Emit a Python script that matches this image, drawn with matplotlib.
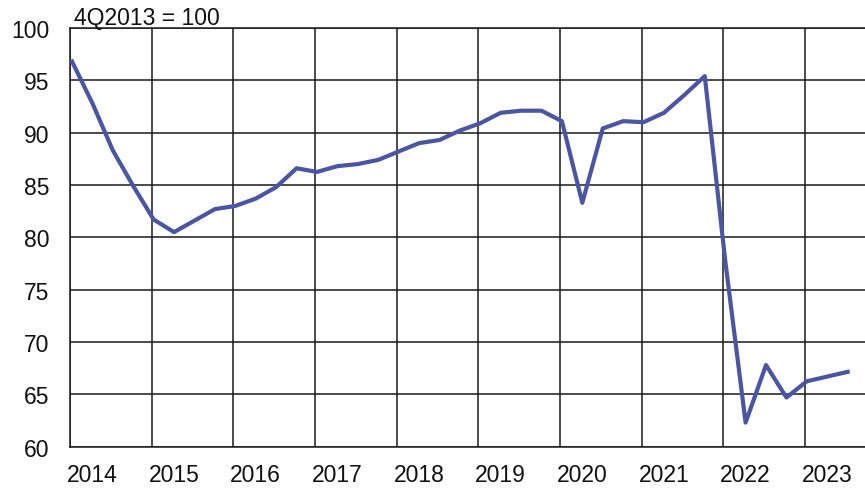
import numpy as np
import matplotlib.pyplot as plt

plt.rcParams['font.family'] = ['Liberation Sans', 'DejaVu Sans']

# quarterly index, 1Q2014 .. 3Q2023 (4Q2013 = 100)
years = [2014, 2015, 2016, 2017, 2018, 2019, 2020, 2021, 2022, 2023]
values = [96.8, 92.8, 88.3, 84.9, 81.7, 80.5, 81.6, 82.7, 83.0, 83.7,
          84.8, 86.6, 86.25, 86.8, 87.0, 87.4, 88.2, 89.0, 89.3, 90.2,
          90.9, 91.9, 92.1, 92.1, 91.1, 83.3, 90.4, 91.1, 91.0, 91.9,
          93.6, 95.4, 77.8, 62.3, 67.8, 64.7, 66.25, 66.7, 67.15]
y_ticks = [60, 65, 70, 75, 80, 85, 90, 95, 100]

fig = plt.figure(figsize=(8.65, 4.89), dpi=100)
ax = fig.add_axes([70/865, 1-447.7/489, 1-70/865, (447.7-29)/489])

x = np.arange(len(values))
ax.plot(x, values, color='#4a56a3', lw=3.0, solid_joinstyle='round', zorder=3)

# year gridlines at start of each year, labels one quarter later
grid_pos = [4*i - 0.1 for i in range(len(years))]
label_pos = [4*i + 1.0 for i in range(len(years))]
ax.set_xticks(grid_pos)
ax.set_xticklabels([])
ax.set_xticks(label_pos, minor=True)
ax.set_xticklabels([str(y) for y in years], minor=True)
ax.set_xlim(-0.1, 38.85)

ax.set_yticks(y_ticks)
ax.set_yticklabels([str(v) for v in y_ticks])
ax.set_ylim(60, 100)

ax.grid(True, which='major', color='#1a1a1a', lw=1.1)
ax.tick_params(axis='both', which='both', length=0, labelsize=16.5, colors='#111111')
ax.tick_params(axis='y', pad=15)
ax.tick_params(axis='x', which='minor', pad=12)

for side in ['right']:
    ax.spines[side].set_visible(False)
for side in ['left', 'bottom', 'top']:
    ax.spines[side].set_color('#1a1a1a')
    ax.spines[side].set_linewidth(1.1)

fig.text(74/865, 1-25/489, '4Q2013 = 100', fontsize=16.5, color='#111111',
         va='baseline', ha='left')

fig.savefig('out.png', dpi=100)
